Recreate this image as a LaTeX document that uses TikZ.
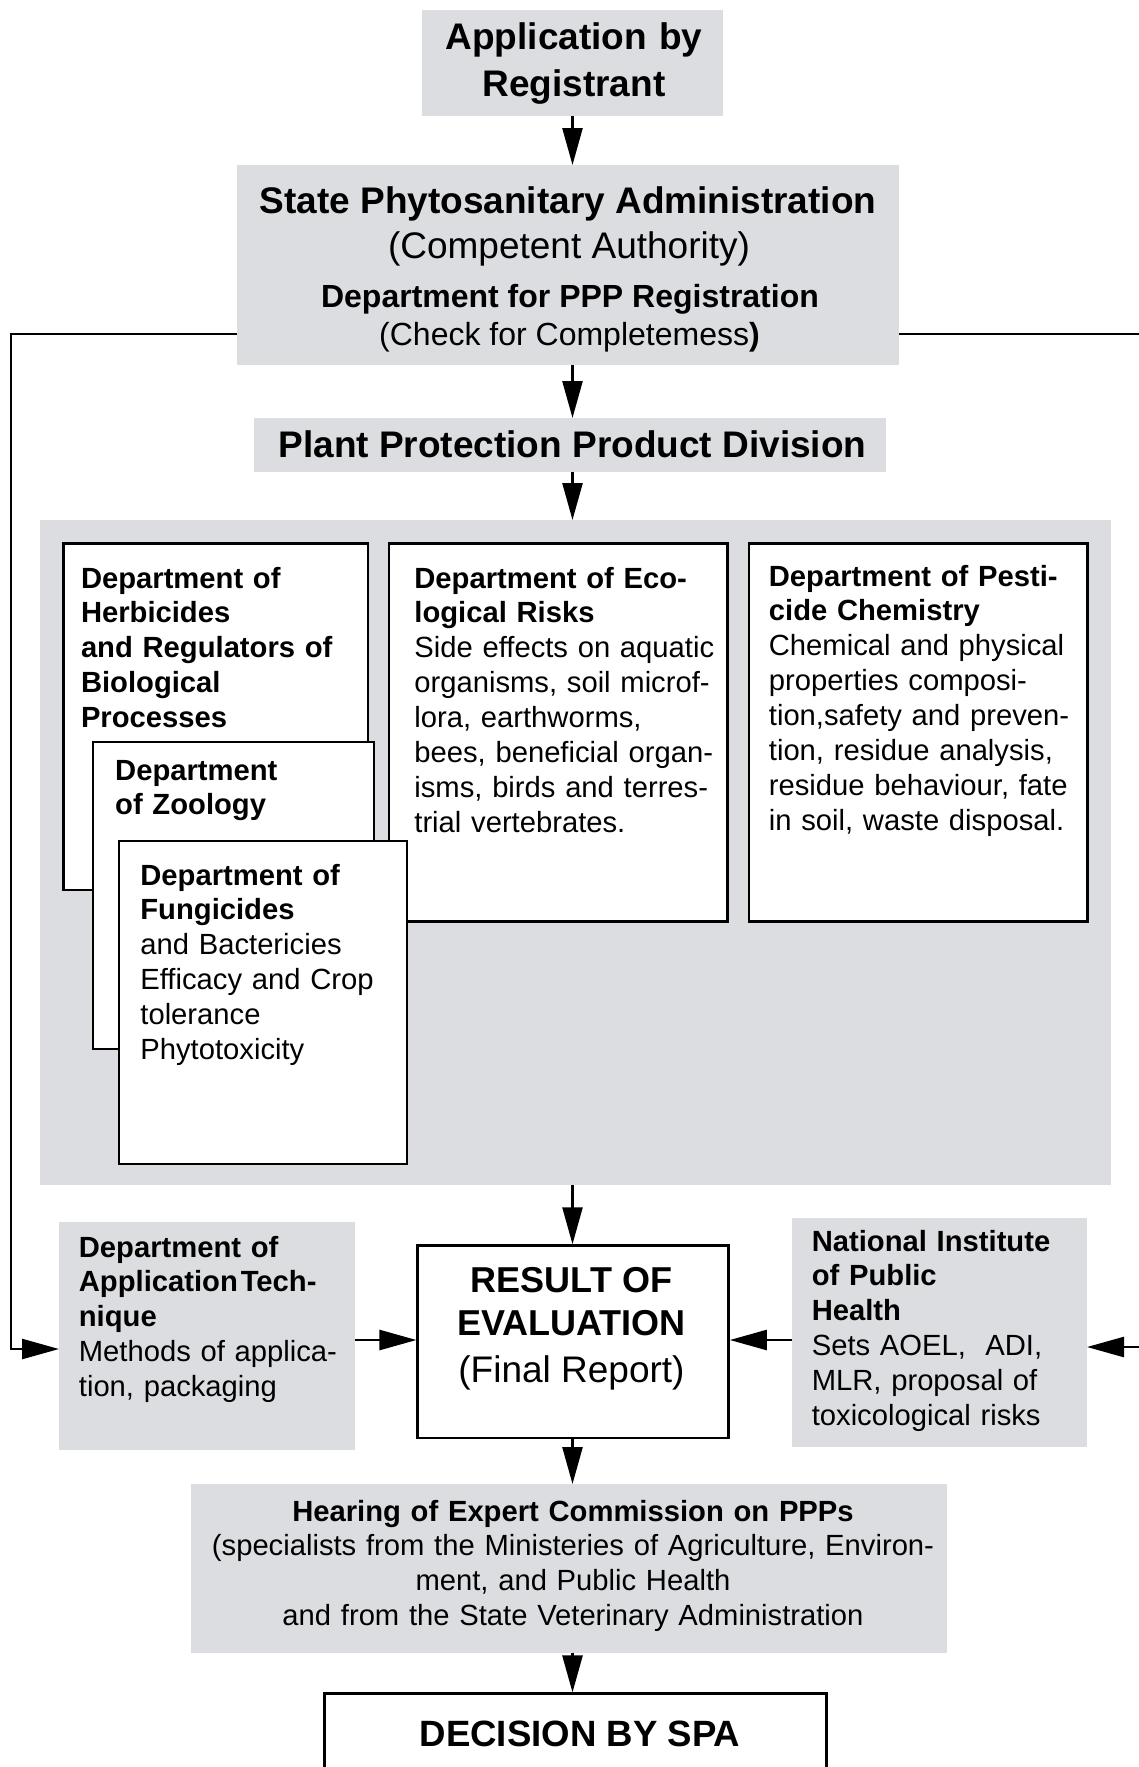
\documentclass[tikz,border=0pt]{standalone}
\usepackage{fontspec}
\setmainfont{Liberation Sans}
\usetikzlibrary{arrows.meta,fit}
\definecolor{boxgray}{RGB}{220,221,224}
\begin{document}
\begin{tikzpicture}[x=0.5pt,y=-0.5pt,
  gbox/.style={fill=boxgray, draw=none, inner sep=0pt, outer sep=0pt},
  wbox/.style={fill=white, draw=black, line width=1.25pt, inner sep=0pt},
  arr/.style={line width=1.25pt, line join=miter, -{Triangle[length=18.5pt,width=10pt]}},
  bigb/.style={inner sep=0pt, font=\fontsize{18.5}{23.25}\selectfont\bfseries},
  bigr/.style={inner sep=0pt, font=\fontsize{18.5}{23.25}\selectfont},
  midb/.style={inner sep=0pt, font=\fontsize{16}{19}\selectfont\bfseries},
  midr/.style={inner sep=0pt, font=\fontsize{16}{19}\selectfont},
  smalltxt/.style={inner sep=0pt, font=\fontsize{14.6}{17.45}\selectfont, text width=165pt, align=left, anchor=base west},
  smallctr/.style={inner sep=0pt, font=\fontsize{14.6}{17.45}\selectfont, text width=420pt, align=center, anchor=base}
]
\useasboundingbox (0,0) rectangle (1139,1767);

% ---------- top boxes ----------
\node[gbox, fit={(422,10) (723,116)}] (app) {};
\node[bigb, text width=200pt, align=center, anchor=base] (appT) at (574,49.5) {Application by\\Registrant};

\node[gbox, fit={(237,165) (899,365)}] (spa) {};
\node[bigb, anchor=base] (spaT1) at (568,213.5) {State Phytosanitary Administration};
\node[bigr, anchor=base] (spaT2) at (569,258) {(Competent Authority)};
\node[midb, anchor=base] (spaT3) at (570,307.5) {Department for PPP Registration};
\node[midr, anchor=base] (spaT4) at (569.5,345) {(Check for Completemess\textbf{)}};

\node[gbox, fit={(254,418) (886,472)}] (ppp) {};
\node[bigb, anchor=base] (pppT) at (572.5,457) {Plant Protection Product Division};

% ---------- panel ----------
\node[gbox, fit={(40,520) (1110.5,1185)}] (panel) {};

\node[wbox, fit={(389,543.5) (727.5,921.5)}] (eco) {};
\node[smalltxt] (ecoT) at (414,588) {\textbf{Department of Eco-}\\\textbf{logical Risks}\\Side effects on aquatic\\organisms, soil microf-\\lora, earthworms,\\bees, beneficial organ-\\isms, birds and terres-\\trial vertebrates.};

\node[wbox, fit={(749,543.5) (1087.5,921.5)}] (pest) {};
\node[smalltxt] (pestT) at (768.5,586) {\textbf{Department of Pesti-}\\\textbf{cide Chemistry}\\Chemical and physical\\properties composi-\\tion,safety and preven-\\tion, residue analysis,\\residue behaviour, fate\\in soil, waste disposal.};

\node[wbox, fit={(63.5,543.5) (368,890)}] (herb) {};
\node[smalltxt] (herbT) at (80.6,588) {\textbf{Department of}\\\textbf{Herbicides}\\\textbf{and Regulators of}\\\textbf{Biological}\\\textbf{Processes}};

\node[wbox, fit={(93,742) (374,1049)}] (zoo) {};
\node[smalltxt] (zooT) at (114.8,780) {\textbf{Department}\\\textbf{of Zoology}};

\node[wbox, fit={(118.8,841) (407,1164)}] (fung) {};
\node[smalltxt] (fungT) at (140,885) {\textbf{Department of}\\\textbf{Fungicides}\\and Bactericies\\Efficacy and Crop\\tolerance\\Phytotoxicity};

% ---------- middle row ----------
\node[gbox, fit={(59,1222) (354.5,1450)}] (appt) {};
\node[smalltxt] (apptT) at (78.5,1257) {\textbf{Department of}\\\textbf{Application\hspace{0.1em}Tech-}\\\textbf{nique}\\Methods of applica-\\tion, packaging};

\node[wbox, fit={(417.7,1245.5) (728.6,1438)}] (result) {};
\node[bigb, anchor=base] (resT1) at (571.5,1292) {\fontsize{18}{22}\selectfont RESULT OF};
\node[bigb, anchor=base] (resT2) at (571.5,1335) {\fontsize{18}{22}\selectfont EVALUATION};
\node[bigr, anchor=base] (resT3) at (571.5,1382) {(Final Report)};

\node[gbox, fit={(792,1218) (1087,1446.5)}] (niph) {};
\node[smalltxt] (niphT) at (811.4,1251) {\textbf{National Institute}\\\textbf{of Public}\\\textbf{Health}\\Sets AOEL,\ \ ADI,\\MLR, proposal of\\toxicological risks};

% ---------- bottom ----------
\node[gbox, fit={(191,1484) (946.5,1652.5)}] (hear) {};
\node[smallctr] (hearT) at (573,1521) {\textbf{Hearing of Expert Commission on PPPs}\\(specialists from the Ministeries of Agriculture, Environ-\\ment, and Public Health\\and from the State Veterinary Administration};

\node[wbox, fit={(324.7,1693.7) (826.7,1800)}] (dec) {};
\node[bigb, anchor=base] (decT) at (580,1746) {\fontsize{18.3}{22}\selectfont DECISION BY SPA};

% ---------- connectors ----------
\draw[arr] (app.south -| 572.5,0) -- (spa.north -| 572.5,0);
\draw[arr] (spa.south -| 572.5,0) -- (ppp.north -| 572.5,0);
\draw[arr] (ppp.south -| 572.5,0) -- (panel.north -| 572.5,0);
\draw[arr] (panel.south -| 572.5,0) -- (result.north -| 572.5,0);
\draw[arr] (result.south -| 572.5,0) -- (hear.north -| 572.5,0);
\draw[arr] (hear.south -| 572.5,0) -- (dec.north -| 572.5,0);

\coordinate (lineY) at (0,334);
\coordinate (leftX) at (11,0);
\coordinate (rightX) at (1160,0);
\coordinate (arrYL) at (0,1349);
\coordinate (arrYR) at (0,1347);
\coordinate (midY) at (0,1340);

\draw[arr] (spa.west |- lineY) -- (leftX |- lineY) -- (leftX |- arrYL) -- (appt.west |- arrYL);
\draw[arr] (spa.east |- lineY) -- (rightX |- lineY) -- (rightX |- arrYR) -- (niph.east |- arrYR);
\draw[arr] (appt.east |- midY) -- (result.west |- midY);
\draw[arr] (niph.west |- midY) -- (result.east |- midY);
\end{tikzpicture}
\end{document}
